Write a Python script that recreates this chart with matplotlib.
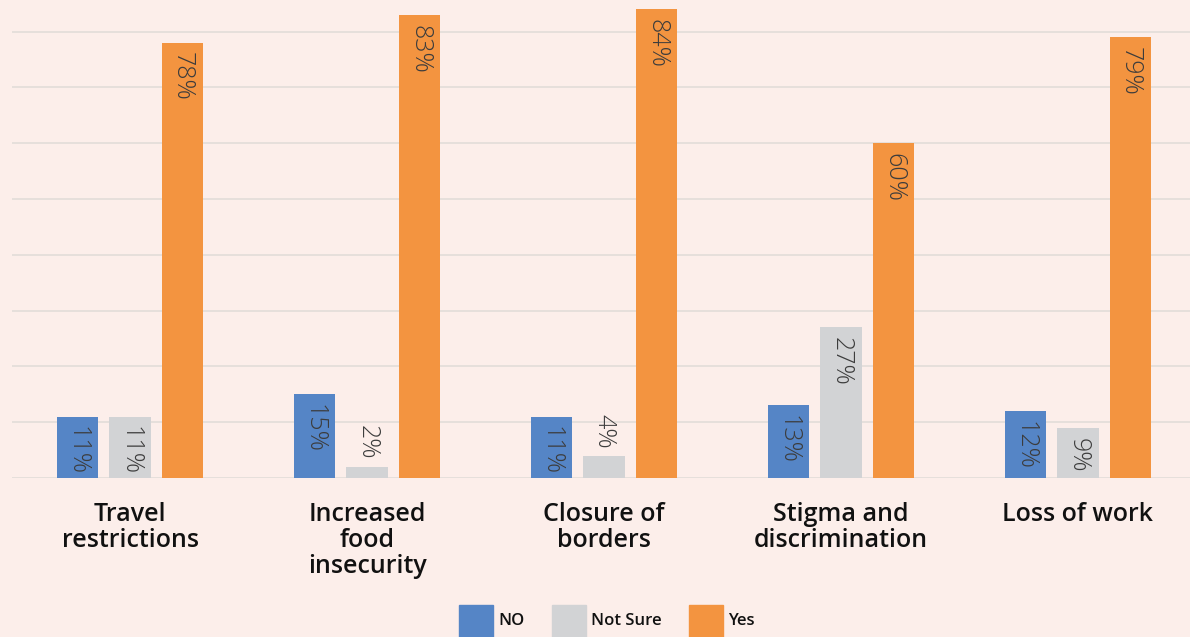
import matplotlib
matplotlib.use("Agg")
import matplotlib.pyplot as plt
import numpy as np
from matplotlib.patches import Rectangle

categories = ["Travel\nrestrictions", "Increased\nfood\ninsecurity", "Closure of\nborders",
              "Stigma and\ndiscrimination", "Loss of work"]
series_names = ["NO", "Not Sure", "Yes"]
no_vals = [11, 15, 11, 13, 12]
not_sure_vals = [11, 2, 4, 27, 9]
yes_vals = [78, 83, 84, 60, 79]
grid_ticks = [0, 10, 20, 30, 40, 50, 60, 70, 80]

colors = ["#5585C6", "#D2D3D5", "#F39440"]
bg = "#FCEEEA"
W, H = 1190, 637

fig = plt.figure(figsize=(W / 100, H / 100), dpi=100, facecolor=bg)
# one category slot is 237 px wide; the plotting area runs off the right edge
ax = fig.add_axes([11.5 / W, 159 / H, 1185 / W, 478 / H])
ax.set_facecolor(bg)

x = np.arange(len(categories))
width = 0.176
step = 0.222
font = ["Open Sans", "DejaVu Sans"]

for i, (vals, col) in enumerate(zip([no_vals, not_sure_vals, yes_vals], colors)):
    pos = x + (i - 1) * step
    bars = ax.bar(pos, vals, width=width, color=col, zorder=3)
    for b, v in zip(bars, vals):
        cx = b.get_x() + b.get_width() / 2
        if v >= 6:
            ax.annotate(f"{v}%", (cx, v), xytext=(0, -7), textcoords="offset points",
                        ha="center", va="top", rotation=270, fontsize=18,
                        fontweight="light", color="#3C3C3C", family=font, zorder=4)
        else:
            ax.annotate(f"{v}%", (cx, v), xytext=(0, 5), textcoords="offset points",
                        ha="center", va="bottom", rotation=270, fontsize=18,
                        fontweight="light", color="#3C3C3C", family=font, zorder=4)

ax.set_xlim(-0.5, len(categories) - 0.5)
ax.set_ylim(0, 478 / 5.58)
ax.set_yticks(grid_ticks)
ax.grid(axis="y", color="#E6DFDB", linewidth=1.4, zorder=0)
ax.tick_params(left=False, bottom=False, labelleft=False, labelbottom=False)
for s in ax.spines.values():
    s.set_visible(False)

for xi, cat in zip(x, categories):
    ax.text(xi, -0.051, cat, transform=ax.get_xaxis_transform(),
            ha="center", va="top", fontsize=18, fontweight="semibold",
            color="#111111", family=font, linespacing=1.04)

# legend swatches and labels, placed in figure pixels
swatch_x = [459, 552, 689]
for sx, col, name in zip(swatch_x, colors, series_names):
    fig.add_artist(Rectangle((sx / W, (H - 605 - 36) / H), 34 / W, 36 / H,
                             transform=fig.transFigure, color=col))
    fig.text((sx + 39) / W, (H - 621) / H, name, ha="left", va="center",
             fontsize=12, fontweight="semibold", color="#111111", family=font)

fig.savefig("out.png", dpi=100, facecolor=bg)
